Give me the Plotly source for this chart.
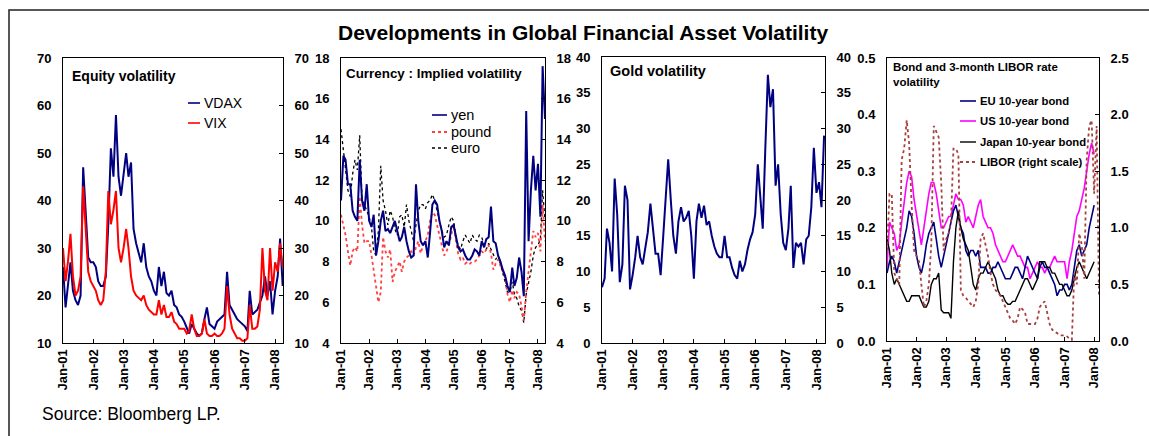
import pandas as pd
import plotly.graph_objects as go

W, H = 1149, 436

# monthly readings, Jan-01 onwards
months = pd.date_range('2001-01-01', '2008-04-01', freq='MS')
year_ticks = pd.date_range('2001-01-01', '2008-01-01', freq='YS')
year_labels = ['Jan-01', 'Jan-02', 'Jan-03', 'Jan-04', 'Jan-05', 'Jan-06', 'Jan-07', 'Jan-08']

vdax = [26, 17.5, 22, 27, 21, 19, 18, 20, 47, 37, 28, 27,
        27, 26, 23, 22, 22, 24, 35, 51, 45, 58, 45, 41,
        45, 50, 45, 48, 34, 31, 29, 27, 31, 26, 24, 23,
        21, 20, 26, 22, 25, 20.5, 20, 21, 18, 17.5, 16, 15.5,
        14.5, 13, 12, 14, 13, 12, 11.5, 12, 15, 17.5, 14, 13.5,
        13, 14.5, 15, 15.5, 16, 25, 18, 17, 16, 15, 14.5, 14,
        13.5, 12.5, 21, 16, 16.5, 17, 18.5, 20, 24, 20, 23, 16,
        21, 24, 32, 22]
vix = [30, 23, 27, 33, 24, 20, 21, 24, 43, 33, 25, 23,
       22, 21, 19, 18, 19, 25, 42, 35, 38, 42, 30, 27,
       30, 34, 30, 24, 21, 20, 19.5, 19, 20, 18, 17, 16.5,
       16, 16, 19, 16, 18, 15.5, 15.5, 16.5, 14.5, 14, 13, 13,
       13, 12, 12.5, 16, 13, 11.5, 11.5, 12, 15, 12, 11.5, 11.5,
       12, 11.5, 11.5, 12, 13, 22, 16, 13, 12, 11, 11, 10.5,
       10.5, 11, 18, 13, 13, 13.5, 17, 30, 21, 19, 30, 21,
       27, 25, 31, 26]

yen = [11, 13.2, 13, 11.8, 11.8, 10.5, 10.2, 10, 13, 11, 10.5, 11.8,
       10, 9.7, 10.3, 8.3, 9, 10, 10.5, 9.5, 9.6, 9.4, 9.7, 10,
       9.5, 9, 9.2, 9.7, 9, 8.5, 8.2, 8.3, 11.8, 10, 9, 8.8,
       9, 8.2, 9.4, 10.8, 11, 10.8, 10, 9.5, 8.7, 9, 8.8, 9.7,
       9.8, 9.3, 8.7, 8.5, 8.6, 8.3, 8.1, 8.1, 8.3, 8.6, 8.5, 8.3,
       9, 8.7, 9.1, 9.2, 10.7, 9, 8.9, 8.3, 8, 7.6, 7.3, 6.8,
       6.5, 7.7, 6.8, 7.2, 8.2, 7.5, 6.3, 15.4, 9, 11.5, 13.2, 11.5,
       12.8, 10.2, 17.6, 15]
pound = [10.3, 9.8, 9.3, 8.5, 7.8, 8.5, 8.7, 8.5, 11.2, 9.8, 8.9, 9,
         9, 8.3, 7.5, 6.7, 6, 6.5, 9.2, 8.5, 8.2, 8.6, 7, 7.5,
         7.8, 8, 7.5, 8, 8.2, 8.3, 8.5, 8.3, 8.7, 9, 8.4, 8.8,
         9, 9.3, 10, 10.4, 10.3, 9.7, 9.3, 8.8, 8.3, 8.5, 8.8, 9.3,
         9.8, 9, 8.4, 8.1, 8.2, 7.9, 8, 7.9, 8, 8, 8.1, 8.3,
         8.5, 8.4, 8.6, 8.8, 8.4, 7.6, 7.9, 8.1, 7.8, 7.5, 7.2, 6.4,
         6, 6.6, 6.2, 6.5, 6.4, 5.8, 5.1, 6.5, 7.5, 8.2, 9.5, 9.2,
         9.4, 8.5, 10.8, 9]
euro = [14.5, 13.5, 12.5, 11.5, 11.2, 12.3, 13, 12.5, 14.2, 11, 10.8, 10.5,
        10.2, 9.7, 8.5, 8.3, 9.5, 12.7, 11, 10.5, 9.8, 10.5, 10.2, 9.6,
        9.3, 10.2, 10.3, 9.7, 10.8, 10, 9.5, 9, 9.8, 10.5, 10.8, 10.8,
        10.6, 10.9, 11, 11.3, 11, 10.5, 10, 9.5, 9.2, 9.3, 9.8, 10.2,
        10, 9.2, 8.8, 8.6, 9, 9.3, 9.1, 8.9, 9.3, 9.1, 9, 9.3,
        9.2, 8.8, 8.6, 8.9, 8.6, 8.3, 8.1, 8.3, 7.9, 7.5, 7, 6.5,
        6.5, 7, 6.4, 6.2, 5.8, 5.6, 5, 6.4, 7, 7.5, 8.3, 8.7,
        8.8, 9.1, 11.5, 10]

gold = [7.8, 9, 16, 14, 10, 23, 18, 8.5, 11, 22, 20, 7.5,
        9.5, 12, 15, 12, 11, 13.5, 15.5, 19.5, 16, 12.5, 12.5, 9.5,
        15, 21, 25.7, 20, 15, 12.5, 17, 19, 17, 17.5, 18.5, 15,
        9, 17, 19.5, 17.5, 19.2, 16.5, 17, 15, 13.5, 12.5, 12, 12,
        15, 12, 12, 10.5, 9.5, 9, 11.5, 10, 11, 13, 14.5, 15.5,
        18, 25, 21, 16, 27, 37.5, 33, 35.5, 22, 25, 18, 14,
        13, 16, 22, 10.5, 14, 13.5, 14, 11, 14.5, 15, 19, 27.3,
        21, 22.5, 19, 29]

eu_bond = [0.12, 0.14, 0.15, 0.14, 0.12, 0.14, 0.16, 0.18, 0.2, 0.23, 0.22, 0.19,
           0.15, 0.13, 0.12, 0.14, 0.17, 0.19, 0.2, 0.21, 0.18, 0.15, 0.13, 0.15,
           0.17, 0.19, 0.21, 0.23, 0.24, 0.22, 0.2, 0.19, 0.16, 0.15, 0.16, 0.16,
           0.15, 0.16, 0.13, 0.13, 0.13, 0.12, 0.12, 0.13, 0.13, 0.14, 0.13, 0.12,
           0.11, 0.11, 0.11, 0.12, 0.13, 0.13, 0.12, 0.11, 0.13, 0.15, 0.14, 0.13,
           0.12, 0.11, 0.13, 0.14, 0.13, 0.13, 0.12, 0.11, 0.1, 0.08, 0.09, 0.09,
           0.1, 0.1, 0.09, 0.1, 0.13, 0.16, 0.17, 0.15, 0.16, 0.17, 0.2, 0.22,
           0.24]
us_bond = [0.13, 0.21, 0.2, 0.19, 0.16, 0.17, 0.21, 0.25, 0.28, 0.3, 0.29, 0.25,
           0.22, 0.19, 0.17, 0.2, 0.23, 0.26, 0.28, 0.28, 0.26, 0.23, 0.2, 0.2,
           0.21, 0.22, 0.22, 0.24, 0.26, 0.25, 0.25, 0.24, 0.21, 0.22, 0.21, 0.2,
           0.22, 0.24, 0.25, 0.22, 0.21, 0.2, 0.2, 0.19, 0.17, 0.16, 0.15, 0.14,
           0.14, 0.15, 0.16, 0.17, 0.16, 0.15, 0.15, 0.14, 0.13, 0.13, 0.11, 0.12,
           0.13, 0.14, 0.13, 0.13, 0.12, 0.13, 0.13, 0.14, 0.15, 0.14, 0.14, 0.14,
           0.14, 0.11, 0.14, 0.16, 0.19, 0.22, 0.23, 0.25, 0.27, 0.3, 0.33, 0.35,
           0.33]
jp_bond = [0.18, 0.16, 0.12, 0.1, 0.11, 0.1, 0.09, 0.08, 0.07, 0.07, 0.08, 0.08,
           0.08, 0.08, 0.07, 0.06, 0.06, 0.07, 0.1, 0.11, 0.11, 0.12, 0.055, 0.05,
           0.05, 0.05, 0.04, 0.14, 0.2, 0.23, 0.2, 0.18, 0.17, 0.16, 0.13, 0.1,
           0.09, 0.11, 0.12, 0.12, 0.13, 0.14, 0.13, 0.12, 0.11, 0.09, 0.08, 0.08,
           0.07, 0.065, 0.065, 0.07, 0.07, 0.08, 0.09, 0.1, 0.11, 0.11, 0.1, 0.09,
           0.1, 0.11, 0.14, 0.14, 0.14, 0.13, 0.13, 0.12, 0.12, 0.11, 0.1, 0.1,
           0.09, 0.08, 0.08, 0.09, 0.11, 0.13, 0.14, 0.13, 0.12, 0.11, 0.12, 0.13,
           0.14]
libor = [0.8, 1.3, 1.3, 0.6, 0.55, 0.5, 1.6, 1.7, 1.95, 1.75, 1.2, 0.8,
         0.75, 0.7, 0.5, 0.3, 0.35, 0.5, 0.85, 1.9, 1.85, 1.8, 1.4, 0.8,
         0.9, 0.95, 1.05, 1.7, 1.7, 1.65, 0.45, 0.4, 0.38, 0.35, 0.33, 0.3,
         0.35, 0.5, 0.9, 0.95, 0.85, 0.75, 0.6, 0.5, 0.45, 0.42, 0.4, 0.35,
         0.3, 0.25, 0.2, 0.18, 0.15, 0.2, 0.3, 0.28, 0.25, 0.15, 0.15, 0.15,
         0.15, 0.2, 0.3, 0.33, 0.35, 0.25, 0.15, 0.1, 0.08, 0.07, 0.05, 0.05,
         0.05, 0.04, 0.02, 0.01, 0.6, 0.5, 0.95, 0.85, 0.55, 1.6, 1.9, 1.95,
         1.3, 1.9, 0.4]

NAVY = '#000080'
FONT = 'Arial, Liberation Sans, sans-serif'


def px_x(v):
    return v / W


def px_y(v):
    return 1 - v / H


# panel plot areas in pixels: (left, right, top, bottom)
panels = [(63, 283, 58, 343), (341, 545, 58, 343), (602, 825, 57, 343), (887, 1099, 58, 341)]
x_ends = ['2008-04-05', '2008-04-01', '2008-04-12', '2008-03-01']
left_axes = [dict(range=[10, 70], dtick=10, tickformat='d'),
             dict(range=[4, 18], dtick=2, tickformat='d'),
             dict(range=[0, 40], dtick=5, tickformat='d'),
             dict(range=[0, 0.5], dtick=0.1, tickformat='.1f')]
right_axes = [dict(range=[10, 70], dtick=10, tickformat='d'),
              dict(range=[4, 18], dtick=2, tickformat='d'),
              dict(range=[0, 40], dtick=5, tickformat='d'),
              dict(range=[0, 2.5], dtick=0.5, tickformat='.1f')]

fig = go.Figure()

# equity
fig.add_trace(go.Scatter(x=months, y=vdax, mode='lines', line=dict(color=NAVY, width=2), xaxis='x', yaxis='y'))
fig.add_trace(go.Scatter(x=months, y=vix, mode='lines', line=dict(color='#FF0000', width=2), xaxis='x', yaxis='y'))
# currency
fig.add_trace(go.Scatter(x=months, y=euro, mode='lines', line=dict(color='black', width=1.3, dash='dot'), xaxis='x2', yaxis='y3'))
fig.add_trace(go.Scatter(x=months, y=pound, mode='lines', line=dict(color='#FF4040', width=1.8, dash='dot'), xaxis='x2', yaxis='y3'))
fig.add_trace(go.Scatter(x=months, y=yen, mode='lines', line=dict(color=NAVY, width=2), xaxis='x2', yaxis='y3'))
# gold
fig.add_trace(go.Scatter(x=months, y=gold, mode='lines', line=dict(color=NAVY, width=2), xaxis='x3', yaxis='y5'))
# bonds + libor
fig.add_trace(go.Scatter(x=months[:len(libor)], y=libor, mode='lines', line=dict(color='#A84040', width=1.8, dash='dot'), xaxis='x4', yaxis='y8'))
fig.add_trace(go.Scatter(x=months[:len(us_bond)], y=us_bond, mode='lines', line=dict(color='#FF00FF', width=1.6), xaxis='x4', yaxis='y7'))
fig.add_trace(go.Scatter(x=months[:len(eu_bond)], y=eu_bond, mode='lines', line=dict(color=NAVY, width=1.6), xaxis='x4', yaxis='y7'))
fig.add_trace(go.Scatter(x=months[:len(jp_bond)], y=jp_bond, mode='lines', line=dict(color='black', width=1.4), xaxis='x4', yaxis='y7'))
# empty traces so right-hand axes get drawn
fig.add_trace(go.Scatter(x=[], y=[], xaxis='x', yaxis='y2'))
fig.add_trace(go.Scatter(x=[], y=[], xaxis='x2', yaxis='y4'))
fig.add_trace(go.Scatter(x=[], y=[], xaxis='x3', yaxis='y6'))

tickfont = dict(family=FONT, size=13, color='black', weight='bold')
layout = dict(width=W, height=H, margin=dict(l=0, r=0, t=0, b=0, pad=0, autoexpand=False),
              showlegend=False, plot_bgcolor='white', paper_bgcolor='white',
              font=dict(family=FONT, color='black'))

for i, (l, r, t, b) in enumerate(panels):
    xname = 'xaxis' if i == 0 else 'xaxis%d' % (i + 1)
    xref = 'x' if i == 0 else 'x%d' % (i + 1)
    yl = 'y' if i == 0 else 'y%d' % (2 * i + 1)
    layout[xname] = dict(domain=[px_x(l), px_x(r)], anchor=yl, type='date', automargin=False,
                         range=['2001-01-01', x_ends[i]], tickvals=year_ticks, ticktext=year_labels,
                         tickangle=-90, ticks='inside', ticklen=4, tickcolor='black',
                         showline=True, linecolor='black', linewidth=1, mirror=True,
                         showgrid=False, zeroline=False, tickfont=tickfont)
    layout['yaxis' if i == 0 else 'yaxis%d' % (2 * i + 1)] = dict(
        domain=[px_y(b), px_y(t)], anchor=xref, side='left', showgrid=False, zeroline=False,
        showline=True, linecolor='black', linewidth=1, ticks='', tickfont=tickfont,
        automargin=False, ticklabelstandoff=8, **left_axes[i])
    layout['yaxis%d' % (2 * i + 2)] = dict(
        domain=[px_y(b), px_y(t)], anchor=xref, overlaying=yl, side='right', showgrid=False,
        zeroline=False, showline=True, linecolor='black', linewidth=1, ticks='inside',
        ticklen=4, tickcolor='black', tickfont=tickfont, automargin=False,
        ticklabelstandoff=8, **right_axes[i])

fig.update_layout(**layout)

annotations = []
shapes = []


def label(text, x, y, size, bold=False, xanchor='left'):
    annotations.append(dict(text=text, x=px_x(x), y=px_y(y), xref='paper', yref='paper',
                            xanchor=xanchor, yanchor='middle', showarrow=False,
                            font=dict(family=FONT, size=size, color='black',
                                      weight='bold' if bold else 'normal')))


def legend_item(text, x0, x1, y, line, size, bold=False):
    shapes.append(dict(type='line', xref='paper', yref='paper', x0=px_x(x0), x1=px_x(x1),
                       y0=px_y(y), y1=px_y(y), line=line))
    label(text, x1 + 2, y, size, bold)


label('Developments in Global Financial Asset Volatility', 583, 32, 21, True, 'center')
label('Equity volatility', 70, 76, 14, True)
label('Currency : Implied volatility', 344, 74, 13.4, True)
label('Gold volatility', 608, 71, 14.5, True)
label('Bond and 3-month LIBOR rate', 891, 67, 11.5, True)
label('volatility', 891, 82, 11.5, True)
label('Source: Bloomberg LP.', 40, 414, 17.5)

legend_item('VDAX', 188, 200, 103, dict(color=NAVY, width=1.6), 14)
legend_item('VIX', 188, 200, 123, dict(color='#FF0000', width=1.6), 14)
legend_item('yen', 432, 447, 115, dict(color=NAVY, width=1.6), 14.5)
legend_item('pound', 432, 447, 132, dict(color='#FF4040', width=1.8, dash='dot'), 14.5)
legend_item('euro', 432, 447, 148, dict(color='black', width=1.3, dash='dot'), 14.5)
legend_item('EU 10-year bond', 960, 976, 101, dict(color=NAVY, width=1.6), 11.3, True)
legend_item('US 10-year bond', 960, 976, 121, dict(color='#FF00FF', width=1.6), 11.3, True)
legend_item('Japan 10-year bond', 960, 976, 142, dict(color='black', width=1.4), 11.3, True)
legend_item('LIBOR (right scale)', 960, 976, 162, dict(color='#A84040', width=1.8, dash='dot'), 11.3, True)

# outer frame
shapes.append(dict(type='rect', xref='paper', yref='paper', x0=px_x(9), x1=px_x(1160),
                   y0=px_y(10), y1=px_y(450), line=dict(color='#202020', width=1.5)))

fig.update_layout(annotations=annotations, shapes=shapes)
fig.write_html('out.html', config={'displayModeBar': False},
               post_script="document.body.style.margin='0';")
